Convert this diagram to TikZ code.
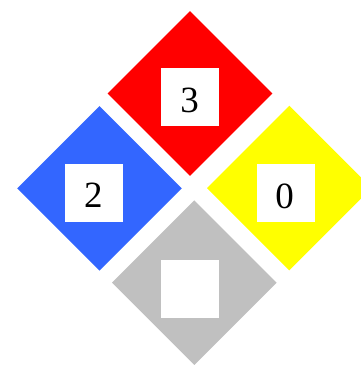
\documentclass[tikz,border=0pt]{standalone}
\usepackage{fontspec}
\setmainfont{Liberation Serif}
\definecolor{nfred}{RGB}{255,0,0}
\definecolor{nfblue}{RGB}{51,102,255}
\definecolor{nfyellow}{RGB}{255,255,0}
\definecolor{nfgray}{RGB}{192,192,192}
\begin{document}
\begin{tikzpicture}[x=1pt,y=-1pt,
  box/.style={fill=white, minimum size=58pt, inner sep=0pt},
  digit/.style={anchor=base, inner sep=0pt, font=\fontsize{37}{37}\selectfont}]
\useasboundingbox (0,0) rectangle (360,365);
% diamonds
\fill[nfred]    (190,11.2)  -- (272.3,93.5) -- (190,175.8)  -- (107.7,93.5) -- cycle;
\fill[nfblue]   (99.5,106)  -- (181.8,188.3) -- (99.5,270.6) -- (17.2,188.3) -- cycle;
\fill[nfyellow] (289.3,105.7) -- (371.6,188) -- (289.3,270.3) -- (207,188) -- cycle;
\fill[nfgray]   (194.3,200.4) -- (276.6,282.7) -- (194.3,365) -- (112,282.7) -- cycle;
% white squares
\node[box] (sred)    at (190,97) {};
\node[box] (sblue)   at (94,193) {};
\node[box] (syellow) at (286,193) {};
\node[box] (sgray)   at (190,289) {};
% numbers
\node[digit] (tred)    at (189.7,112.3) {3};
\node[digit] (tblue)   at (93.3,207.3) {2};
\node[digit] (tyellow) at (284.5,208.3) {0};
\end{tikzpicture}
\end{document}
